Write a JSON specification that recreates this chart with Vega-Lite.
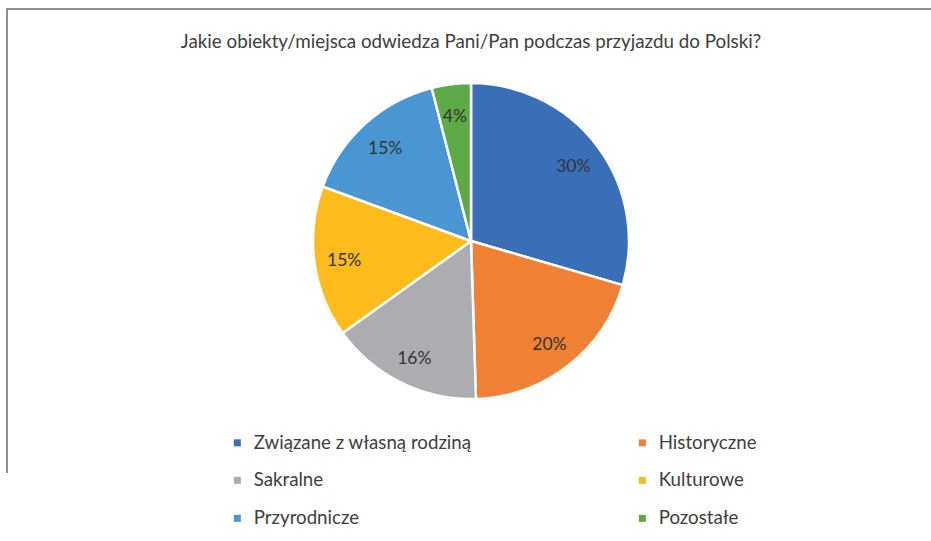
{
  "$schema": "https://vega.github.io/schema/vega-lite/v6.json",
  "autosize": "none",
  "width": 928,
  "height": 464,
  "padding": {"left": 7, "top": 9, "right": 0, "bottom": 70},
  "background": "white",
  "view": {"stroke": "#6b6b6b", "strokeWidth": 1.5, "strokeDash": [928, 1392, 464]},
  "title": {
    "text": "Jakie obiekty/miejsca odwiedza Pani/Pan podczas przyjazdu do Polski?",
    "font": "Lato",
    "fontSize": 18.8,
    "fontWeight": "normal",
    "color": "#404040",
    "anchor": "middle",
    "baseline": "middle",
    "offset": -52
  },
  "data": {
    "values": [
      {"category": "Związane z własną rodziną", "value": 29.5, "label": "30%"},
      {"category": "Historyczne", "value": 20.0, "label": "20%"},
      {"category": "Sakralne", "value": 15.6, "label": "16%"},
      {"category": "Kulturowe", "value": 15.5, "label": "15%"},
      {"category": "Przyrodnicze", "value": 15.4, "label": "15%"},
      {"category": "Pozostałe", "value": 4.0, "label": "4%"}
    ]
  },
  "encoding": {
    "theta": {"field": "value", "type": "quantitative", "stack": true},
    "order": {"field": "value", "type": "quantitative", "sort": "descending"},
    "color": {
      "field": "category",
      "type": "nominal",
      "sort": null,
      "scale": {
        "domain": ["Związane z własną rodziną", "Historyczne", "Sakralne", "Kulturowe", "Przyrodnicze", "Pozostałe"],
        "range": ["#3A6FB8", "#F08033", "#ADADB1", "#FDBB1C", "#4A96D3", "#5DAA47"]
      },
      "legend": {
        "title": null,
        "orient": "none",
        "legendX": 221,
        "legendY": 424,
        "direction": "horizontal",
        "columns": 2,
        "columnPadding": 161,
        "rowPadding": 18,
        "padding": 0,
        "symbolType": "square",
        "symbolSize": 49,
        "symbolStrokeWidth": 0,
        "labelOffset": 7,
        "labelFont": "Lato",
        "labelFontSize": 18.7,
        "labelColor": "#404040",
        "labelLimit": 400
      }
    }
  },
  "layer": [
    {
      "mark": {"type": "arc", "outerRadius": 158, "stroke": "white", "strokeWidth": 2.5}
    },
    {
      "mark": {"type": "text", "radius": 128, "dy": 3, "font": "Lato", "fontSize": 17.5},
      "encoding": {
        "text": {"field": "label"},
        "color": {"value": "#333333"}
      }
    }
  ]
}
